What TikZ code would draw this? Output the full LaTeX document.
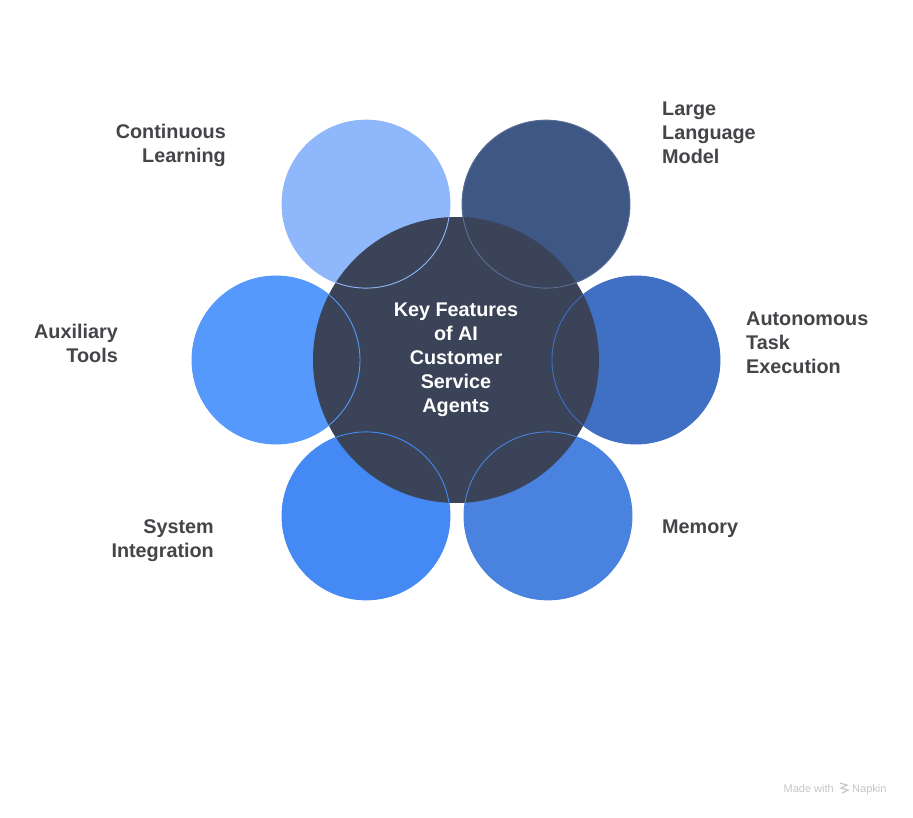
\documentclass[tikz,border=0pt]{standalone}
\usepackage{fontspec}
\setmainfont{Liberation Sans}
\usetikzlibrary{positioning,calc}

\definecolor{hubfill}{HTML}{3A4357}
\definecolor{learnfill}{HTML}{8FB8FC}
\definecolor{llmfill}{HTML}{3E5784}
\definecolor{taskfill}{HTML}{3F70C4}
\definecolor{memfill}{HTML}{4A82E0}
\definecolor{sysfill}{HTML}{4489F4}
\definecolor{toolfill}{HTML}{5599FC}
\definecolor{labeltext}{HTML}{444449}

\begin{document}
\begin{tikzpicture}[x=1pt, y=-1pt,
  font=\bfseries\fontsize{19.8}{24}\selectfont,
  petal/.style={circle, minimum size=168pt, inner sep=0pt},
  rim/.style={line width=0.9pt},
  feat/.style={text=labeltext, inner sep=0pt}]
  \useasboundingbox[fill=white] (0,0) rectangle (913,817);
  \coordinate (c) at (456,360);

  % outer circles
  \node[petal, fill=learnfill] (learn) at ($(c)+(240:180)$) {};
  \node[petal, fill=llmfill]   (llm)   at ($(c)+(300:180)$) {};
  \node[petal, fill=taskfill]  (task)  at ($(c)+(0:180)$) {};
  \node[petal, fill=memfill]   (mem)   at ($(c)+(60:180)+(2,0)$) {};
  \node[petal, fill=sysfill]   (sys)   at ($(c)+(120:180)$) {};
  \node[petal, fill=toolfill]  (tool)  at ($(c)+(180:180)$) {};

  % centre
  \node[circle, fill=hubfill, minimum size=286pt, inner sep=0pt, text=white, align=center] (hub) at (c)
    {Key Features\\of AI\\Customer\\Service\\Agents};

  % rims show through the centre
  \foreach \p/\col in {learn/learnfill, llm/llmfill!85!white, task/taskfill, mem/memfill, sys/sysfill, tool/toolfill}
    \draw[rim, \col] (\p.center) circle[radius=84];

  % labels
  \node[feat, anchor=east, align=right] (learntxt) at (226,145) {Continuous\\Learning};
  \node[feat, anchor=west, align=left]  (llmtxt)   at (662,133) {Large\\Language\\Model};
  \node[feat, anchor=east, align=right] (tooltxt)  at (118,343) {Auxiliary\\Tools};
  \node[feat, anchor=west, align=left]  (tasktxt)  at (746,343) {Autonomous\\Task\\Execution};
  \node[feat, anchor=east, align=right] (systxt)   at (214,541) {System\\Integration};
  \node[feat, anchor=west, align=left]  (memtxt)   at (662,529) {Memory};

  % watermark
  \node[text=gray!45, font=\fontsize{11}{12}\selectfont, anchor=base east, inner sep=0pt] (made) at (834,792) {Made with};
  \node[text=gray!45, font=\fontsize{11}{12}\selectfont, anchor=base west, inner sep=0pt] (napkin) at (852,792) {Napkin};
  \draw[gray!45, line width=1.2pt] ($(made.east)+(6,-5)$) -- ++(7,2) -- ++(-6,3) -- ++(7,2) -- ++(-6,3);
\end{tikzpicture}
\end{document}
